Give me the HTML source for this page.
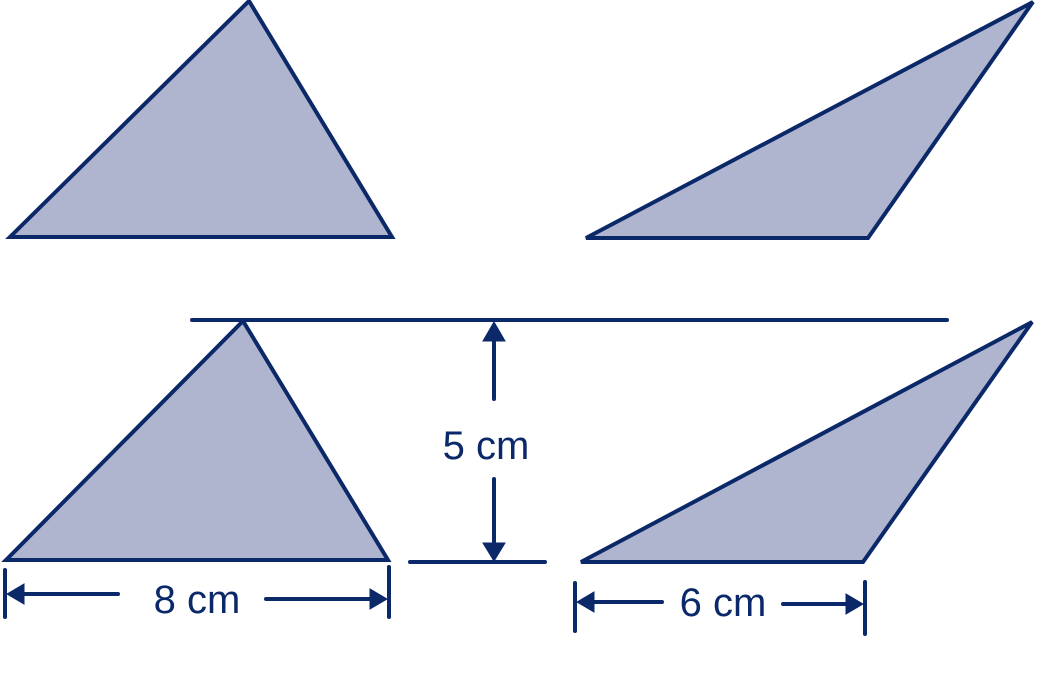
<!DOCTYPE html>
<html><head><meta charset="utf-8"><style>
html,body{margin:0;padding:0;background:#fff;width:1037px;height:694px;overflow:hidden}
svg{display:block}
text{font-family:"Liberation Sans",Arial,sans-serif;font-size:40px;fill:#0b2868}
</style></head><body>
<svg width="1037" height="694" viewBox="0 0 1037 694">
<g fill="#b0b5cf" stroke="#0b2868" stroke-width="4" stroke-linejoin="miter">
<polygon points="10,237 249,1 392,237"/>
<polygon points="586,238 1033,2 868,238"/>
<polygon points="6,560 243,321 388,560"/>
<polygon points="581,562 1032,322 863,562"/>
</g>
<g stroke="#0b2868" stroke-width="4" stroke-linecap="round" fill="#0b2868">
<line x1="192" y1="320" x2="947" y2="320"/>
<line x1="410" y1="562" x2="545" y2="562"/>
<line x1="494" y1="340" x2="494" y2="399"/>
<polygon points="483,341 505,341 494,322" stroke-width="1"/>
<line x1="494" y1="479" x2="494" y2="545"/>
<polygon points="483,543 505,543 494,561" stroke-width="1"/>
<line x1="5" y1="570" x2="5" y2="617"/>
<line x1="389" y1="567" x2="389" y2="617"/>
<line x1="22" y1="594" x2="118" y2="594"/>
<polygon points="7,594 24,584 24,604" stroke-width="1"/>
<line x1="266" y1="599" x2="372" y2="599"/>
<polygon points="387,599 370,589 370,609" stroke-width="1"/>
<line x1="575" y1="583" x2="575" y2="631"/>
<line x1="865" y1="582" x2="865" y2="634"/>
<line x1="592" y1="602" x2="662" y2="602"/>
<polygon points="577,602 594,592 594,612" stroke-width="1"/>
<line x1="783" y1="604" x2="848" y2="604"/>
<polygon points="863,604 846,594 846,614" stroke-width="1"/>
</g>
<text x="486" y="459" text-anchor="middle">5 cm</text>
<text x="197" y="613" text-anchor="middle">8 cm</text>
<text x="723" y="616" text-anchor="middle">6 cm</text>
</svg>
</body></html>
